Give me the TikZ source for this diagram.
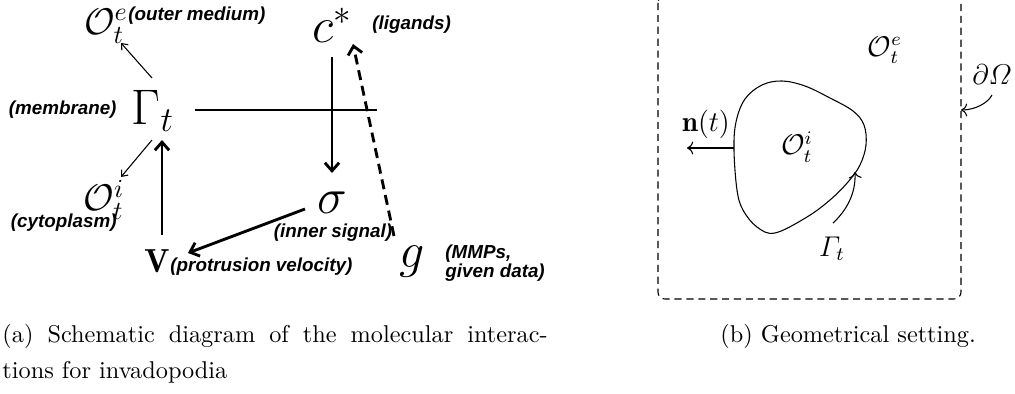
\RequirePackage{fix-cm}
\documentclass[tikz,border=0pt]{standalone}
\usepackage{fontspec}
\newfontfamily\labfont{Liberation Sans}
\DeclareMathSymbol{\itGamma}{\mathord}{letters}{"00}
\DeclareMathSymbol{\itOmega}{\mathord}{letters}{"0A}
\usetikzlibrary{arrows.meta,calc}
\begin{document}
\begin{tikzpicture}[x=0.42pt,y=-0.42pt,
  lab/.style={font=\labfont\bfseries\itshape\fontsize{7.9}{7.7}\selectfont, inner sep=0pt},
  bigm/.style={font=\fontsize{21}{24}\selectfont, inner sep=0pt},
  midm/.style={font=\fontsize{15.6}{18}\selectfont, inner sep=0pt},
  vm/.style={font=\fontsize{14}{16}\selectfont, inner sep=0pt},
  rm/.style={font=\fontsize{12}{14}\selectfont, inner sep=0pt},
  heavy/.style={line width=1.2pt, -{Straight Barb[length=3.4pt,width=6pt]}},
  fine/.style={line width=0.45pt, -{Straight Barb[length=2.2pt,width=3.6pt]}},
  rline/.style={line width=0.45pt},
  captxt/.style={anchor=base west, inner sep=0pt, font=\fontsize{10.2}{12}\selectfont}
]
\useasboundingbox (0,0) rectangle (1015,394);

% ---------- left diagram ----------
\node[midm] (Oe) at (106,26) {$\mathcal{O}_t^e$};
\node[lab, anchor=west] (Oelab) at (128,16) {(outer medium)};
\node[bigm] (C) at (332,25) {$c^*$};
\node[lab, anchor=west] (Clab) at (372,25) {(ligands)};
\node[bigm] (G) at (153,111) {$\Gamma_t$};
\node[lab, anchor=east] (Glab) at (117,110) {(membrane)};
\node[midm] (Oi) at (104,200) {$\mathcal{O}_t^i$};
\node[lab, anchor=east] (Oilab) at (117,223) {(cytoplasm)};
\node[bigm] (S) at (332,203) {$\sigma$};
\node[lab] (Slab) at (333,233) {(inner signal)};
\node[vm] (V) at (157,261) {$\mathbf{V}$};
\node[lab, anchor=west] (Vlab) at (170,267) {(protrusion velocity)};
\node[bigm] (g) at (412,262) {$g$};
\node[lab, anchor=west, align=left] (glab) at (445,263) {(MMPs,\\given data)};
\coordinate (hend) at (377,110);

\draw[fine] ([shift={(-1,-33)}]G.center) -- ([shift={(15,17)}]Oe.center);
\draw[fine] ([shift={(-1,29)}]G.center) -- ([shift={(17,-23)}]Oi.center);
\draw[line width=1.2pt] ([shift={(42,-1)}]G.center) -- (hend);
\draw[heavy] ([shift={(0,32)}]C.center) -- ([shift={(0,-30)}]S.center);
\draw[heavy, dash pattern=on 4.2pt off 2.5pt] ([shift={(-18,-26)}]g.center) -- ([shift={(21,19)}]C.center);
\draw[heavy] ([shift={(5,-26)}]V.center) -- ([shift={(9,29)}]G.center);
\draw[heavy] ([shift={(-27,6)}]S.center) -- ([shift={(31,-8)}]V.center);

% ---------- right diagram ----------
\draw[rline, dash pattern=on 3pt off 2pt, rounded corners=2.9pt] (658,-4) rectangle (961,299);
\draw[rline] plot[smooth cycle, tension=0.6] coordinates {(734,150) (736,122) (745,99) (762,85) (782,81) (805,86) (830,98) (853,111) (864,125) (866,145) (860,165) (848,182) (830,200) (807,217) (775,233) (757,227) (743,210) (737,190)};
\node[rm] (ROe) at (885,50) {$\mathcal{O}_t^e$};
\node[rm] (ROi) at (797,147) {$\mathcal{O}_t^i$};
\node[rm] (nt) at (706,124) {$\mathbf{n}(t)$};
\node[rm] (RG) at (832,249) {$\itGamma_t$};
\node[rm] (dO) at (992,75) {$\partial\itOmega$};
\coordinate (nfoot) at (734,148);
\coordinate (ntip) at (687,148);
\coordinate (gtip) at (855,172);
\coordinate (wall) at (961,110);
\draw[rline, ->] (nfoot) -- (ntip);
\draw[rline, ->] ([shift={(1,-26)}]RG.center) .. controls +(13,-12) and +(1,22) .. (gtip);
\draw[rline, ->] ([shift={(0,20)}]dO.center) .. controls +(-4,8) and +(14,0) .. (wall);

% ---------- captions ----------
\node[captxt] (capa1) at (2,343) {\hbox to 229pt{(a) Schematic diagram of the molecular interac-}};
\node[captxt] (capa2) at (2,379) {tions for invadopodia};
\node[captxt] (capb) at (720,343) {(b) Geometrical setting.};
\end{tikzpicture}
\end{document}
